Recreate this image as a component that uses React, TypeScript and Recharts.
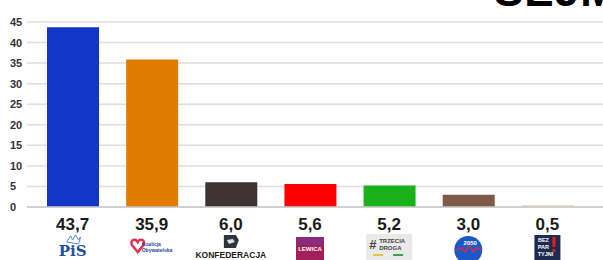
import React from 'react';
import { BarChart, Bar, XAxis, YAxis, CartesianGrid, Cell } from 'recharts';

// wyniki sondażu - Sejm
const partie = ['PiS', 'KO', 'Konfederacja', 'Lewica', 'Trzecia Droga', 'Polska 2050', 'Bezpartyjni'];
const wyniki = [43.7, 35.9, 6.0, 5.6, 5.2, 3.0, 0.5];
const yTicks = [0, 5, 10, 15, 20, 25, 30, 35, 40, 45];

const kolory = ['#1236c6', '#e07c00', '#3e3232', '#ff0000', '#19b21a', '#7e5b48', '#f4dcc2'];

const data = partie.map((p, i) => ({ partia: p, wynik: wyniki[i] }));

const fmt = (v: number) => v.toFixed(1).replace('.', ',');

const YTick = ({ y, payload }: any) => (
  <text x={10} y={y} dy={4} textAnchor="start" fontSize={11} fontWeight="bold" fill="#333"
    fontFamily="Liberation Sans, Arial, sans-serif">
    {payload.value}
  </text>
);

// uproszczone "logotypy" partii
const Logo = ({ i, cx, top }: { i: number; cx: number; top: number }) => {
  switch (i) {
    case 0:
      return (
        <g>
          <path d={`M${cx - 6} ${top + 8} l4 -6 l2 4 l3 -5 l3 5 l2 -3 l-2 7 z`} fill="none" stroke="#5a8ad0" strokeWidth={1} />
          <text x={cx} y={top + 22} textAnchor="middle" fontSize={15} fontWeight="bold" fill="#1d4f9c"
            fontFamily="DejaVu Serif, serif">PiS</text>
        </g>
      );
    case 1:
      return (
        <g>
          <path d={`M${cx - 19} ${top + 12} c-4 -5 2 -9 5 -4 c3 -5 9 -1 5 4 l-5 6 z`} fill="none" stroke="#e8304a" strokeWidth={2.5} />
          <text x={cx - 10} y={top + 12} fontSize={5} fontWeight="bold" fill="#2b4aa0" fontFamily="Liberation Sans, sans-serif">Koalicja</text>
          <text x={cx - 10} y={top + 18} fontSize={5} fontWeight="bold" fill="#2b4aa0" fontFamily="Liberation Sans, sans-serif">Obywatelska</text>
        </g>
      );
    case 2:
      return (
        <g>
          <path d={`M${cx - 7} ${top + 1} l12 0 l3 5 l-3 8 l-12 0 z`} fill="#2a3540" />
          <path d={`M${cx - 4} ${top + 6} l6 -1 l2 3 l-6 2 z`} fill="#e0e0e0" />
          <text x={cx} y={top + 24} textAnchor="middle" fontSize={8.5} fontWeight="bold" fill="#222"
            fontFamily="Liberation Sans, sans-serif">KONFEDERACJA</text>
        </g>
      );
    case 3:
      return (
        <g>
          <rect x={cx - 14} y={top + 3} width={28} height={23} fill="#a2205a" />
          <rect x={cx - 14} y={top + 3} width={28} height={8} fill="#8a2a7a" />
          <text x={cx} y={top + 17} textAnchor="middle" fontSize={6} fontWeight="bold" fill="#fff"
            fontFamily="Liberation Sans, sans-serif">LEWICA</text>
        </g>
      );
    case 4:
      return (
        <g>
          <rect x={cx - 23} y={top} width={46} height={26} fill="#e9e9e9" />
          <text x={cx - 20} y={top + 15} fontSize={13} fontWeight="bold" fill="#444" fontFamily="Liberation Sans, sans-serif">#</text>
          <text x={cx - 10} y={top + 9} fontSize={6} fontWeight="bold" fill="#444" fontFamily="Liberation Sans, sans-serif">TRZECIA</text>
          <text x={cx - 10} y={top + 16} fontSize={6} fontWeight="bold" fill="#444" fontFamily="Liberation Sans, sans-serif">DROGA</text>
          <rect x={cx - 16} y={top + 20} width={10} height={2} fill="#e6c640" />
          <rect x={cx + 4} y={top + 20} width={10} height={2} fill="#3aa04a" />
        </g>
      );
    case 5:
      return (
        <g>
          <circle cx={cx} cy={top + 16} r={14} fill="#1c58c8" />
          <path d={`M${cx - 12} ${top + 16} l6 -2 l3 4 l4 -7 l4 7 l3 -4 l5 2`} fill="none" stroke="#d03040" strokeWidth={1.5} />
          <text x={cx + 2} y={top + 11} textAnchor="middle" fontSize={6} fontWeight="bold" fill="#fff"
            fontFamily="Liberation Sans, sans-serif">2050</text>
        </g>
      );
    default:
      return (
        <g>
          <rect x={cx - 13} y={top + 1} width={26} height={26} fill="#1e2a50" />
          <text x={cx - 4} y={top + 8} textAnchor="middle" fontSize={5.5} fontWeight="bold" fill="#fff" fontFamily="Liberation Sans, sans-serif">BEZ</text>
          <text x={cx - 4} y={top + 15} textAnchor="middle" fontSize={5.5} fontWeight="bold" fill="#fff" fontFamily="Liberation Sans, sans-serif">PAR</text>
          <text x={cx - 2} y={top + 22} textAnchor="middle" fontSize={5.5} fontWeight="bold" fill="#fff" fontFamily="Liberation Sans, sans-serif">TYJNI</text>
          <rect x={cx + 5} y={top + 3} width={3} height={10} fill="#e02020" />
          <rect x={cx + 5} y={top + 15} width={3} height={3} fill="#e02020" />
        </g>
      );
  }
};

const XTick = ({ x, y, payload }: any) => {
  const i = payload.index;
  return (
    <g>
      <text x={x} y={y + 15} textAnchor="middle" fontSize={17} fontWeight="bold" fill="#1a1a1a"
        fontFamily="Liberation Sans, Arial, sans-serif">
        {fmt(wyniki[i])}
      </text>
      <Logo i={i} cx={x} top={y + 19} />
    </g>
  );
};

export default function App() {
  return (
    <div style={{ position: 'absolute', left: 0, top: 0, width: 603, height: 260, overflow: 'hidden', background: '#fff' }}>
      <div style={{
        position: 'absolute', left: 494, top: -34, fontSize: 44, fontWeight: 900, color: '#000',
        fontFamily: 'Liberation Sans, Arial, sans-serif', letterSpacing: 1, whiteSpace: 'nowrap',
      }}>SEJM</div>
      <BarChart width={603} height={260} data={data} margin={{ top: 22, right: 0, bottom: 0, left: 0 }} barSize={52}>
        <CartesianGrid vertical={false} stroke="#dedede" strokeWidth={1.5} />
        <YAxis domain={[0, 45]} ticks={yTicks} width={27} axisLine={false} tickLine={false} tick={<YTick />} interval={0} />
        <XAxis dataKey="partia" height={53} axisLine={{ stroke: '#c8c8c8', strokeWidth: 1.5 }} tickLine={false}
          tick={<XTick />} interval={0} padding={{ left: 6, right: 16 }} />
        <Bar dataKey="wynik" isAnimationActive={false}>
          {data.map((d, i) => (
            <Cell key={`c-${i}`} fill={kolory[i]} />
          ))}
        </Bar>
      </BarChart>
    </div>
  );
}
